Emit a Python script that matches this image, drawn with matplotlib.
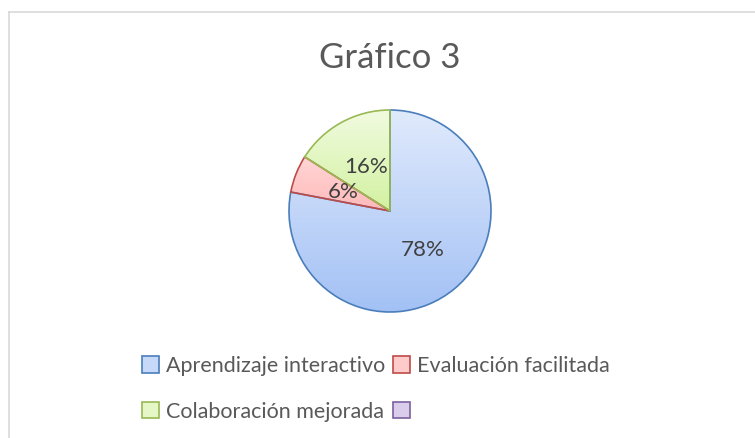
import numpy as np
import matplotlib
matplotlib.use("Agg")
import matplotlib.pyplot as plt
from matplotlib.patches import Patch
from matplotlib.colors import LinearSegmentedColormap
from matplotlib.lines import Line2D

plt.rcParams['font.family'] = ['Lato', 'DejaVu Sans']

title = "Gráfico 3"
categories = ["Aprendizaje interactivo", "Evaluación facilitada", "Colaboración mejorada", ""]
values = [78, 6, 16, 0]
labels_pct = ["78%", "6%", "16%", ""]

top_colors = ["#e0eafc", "#ffd6d6", "#f1fbe0", "#e4dcf0"]
bottom_colors = ["#a3c1f5", "#ffb9b9", "#d2f1a0", "#cbbde3"]
edge_colors = ["#4a7ebb", "#be4b48", "#98b954", "#7d60a0"]
legend_fill = ["#c6d9f8", "#ffcaca", "#e5f7c6", "#d9cdeb"]

W, H = 755, 438
fig = plt.figure(figsize=(W / 100, H / 100), dpi=100)

cx, cy, r = 390, 211, 101
ax = fig.add_axes([(cx - r) / W, (H - cy - r) / H, 2 * r / W, 2 * r / H])
ax.set_axis_off()

wedges, texts = ax.pie(values, startangle=90, counterclock=False, radius=1,
                       wedgeprops=dict(linewidth=1.2, fill=False),
                       labels=None)
for w, ec, v in zip(wedges, edge_colors, values):
    w.set_edgecolor(ec)
    w.set_zorder(3)
    if v == 0:
        w.set_visible(False)

grad = np.linspace(0, 1, 256).reshape(-1, 1)
for w, tc, bc, v in zip(wedges, top_colors, bottom_colors, values):
    if v == 0:
        continue
    bb = w.get_path().get_extents()
    cmap = LinearSegmentedColormap.from_list("g", [tc, bc])
    im = ax.imshow(grad, cmap=cmap, extent=[bb.x0, bb.x1, bb.y0, bb.y1],
                   origin="upper", aspect="auto", zorder=2, interpolation="bilinear")
    im.set_clip_path(w)

# percentage labels
for w, lab in zip(wedges, labels_pct):
    if not lab:
        continue
    ang = np.deg2rad((w.theta1 + w.theta2) / 2)
    d = 0.5
    ax.text(d * np.cos(ang), d * np.sin(ang), lab, ha="center", va="center",
            fontsize=16, color="#404040", zorder=5)

ax.set_xlim(-1.0, 1.0)
ax.set_ylim(-1.0, 1.0)

fig.text(cx / W, 1 - 58 / H, title, ha="center", va="center", fontsize=25, color="#595959")

# row-major legend order (matplotlib fills columns first)
order = [0, 2, 1, 3]
handles = [Patch(facecolor=legend_fill[i], edgecolor=edge_colors[i], linewidth=1.2) for i in order]
leg_labels = [categories[i] for i in order]
leg = fig.legend(handles, leg_labels, ncol=2, loc="upper left",
                 bbox_to_anchor=(142 / W, 1 - 356 / H), frameon=False,
                 fontsize=15.5, handlelength=0.78, handleheight=0.78, handletextpad=0.35,
                 columnspacing=0.35, labelspacing=1.2, borderpad=0, borderaxespad=0)
for t in leg.get_texts():
    t.set_color("#595959")

# chart frame (partial, as in reference)
fig.add_artist(Line2D([8.5 / W, 8.5 / W], [0, 1 - 11.5 / H], transform=fig.transFigure, color="#d9d9d9", lw=1.2))
fig.add_artist(Line2D([8.5 / W, 1], [1 - 11.5 / H, 1 - 11.5 / H], transform=fig.transFigure, color="#d9d9d9", lw=1.2))

fig.savefig("out.png", dpi=100)
